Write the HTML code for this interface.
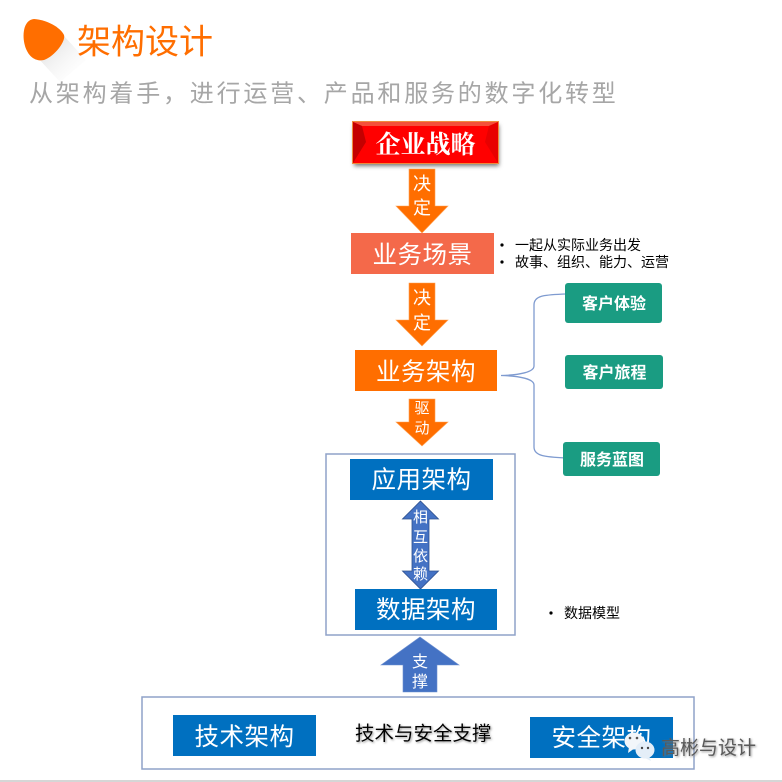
<!DOCTYPE html>
<html><head><meta charset="utf-8">
<style>
html,body{margin:0;padding:0;background:#fff;width:782px;height:782px;overflow:hidden}
svg{display:block}
text{font-family:"Liberation Sans","Noto Sans CJK SC",sans-serif}
.w{fill:#fff;text-anchor:middle}
.b{fill:#000}
</style></head><body>
<svg width="782" height="782" viewBox="0 0 782 782" xmlns="http://www.w3.org/2000/svg">
<defs>
<linearGradient id="sh" x1="0" y1="0" x2="1" y2="1"><stop offset="0" stop-color="#c4c4c4" stop-opacity=".7"/><stop offset="1" stop-color="#fff" stop-opacity="0"/></linearGradient>
<filter id="bl" x="-20%" y="-20%" width="140%" height="150%"><feGaussianBlur stdDeviation="2"/></filter>
<filter id="ts" x="-10%" y="-30%" width="120%" height="170%"><feDropShadow dx="1" dy="1" stdDeviation="1" flood-color="#777" flood-opacity=".8"/></filter>
</defs>

<!-- header -->
<polygon points="38,58 64,36 86,60 60,82" fill="url(#sh)"/>
<path d="M34 19 C47 20 60 27 64 35 C66 41 55 56 44 60 C35 62 28 56 25 46 C22 36 23 20 34 19Z" fill="#ff6e00"/>
<text x="77" y="53.500" font-size="34" fill="#ff6e00">架构设计</text>
<text x="29" y="101.500" font-size="24" fill="#a6a6a6" letter-spacing="2.800">从架构着手，进行运营、产品和服务的数字化转型</text>

<!-- strategy -->
<rect x="354" y="125" width="145" height="41" fill="#777" filter="url(#bl)"/>
<rect x="353" y="122" width="145" height="41" fill="#ff0000"/>
<polygon points="353,122 498,122 489,126 362,126" fill="#f4503a"/>
<polygon points="353,122 362,126 366,142 353,163" fill="#c40000"/>
<polygon points="498,122 489,126 485,142 498,163" fill="#e80000"/>
<rect x="352.500" y="121.500" width="146" height="42" fill="none" stroke="#f08a3c" stroke-width="1"/>
<text class="w" x="425.500" y="153" font-size="25" font-weight="bold" style="font-family:'Noto Serif CJK SC','Liberation Serif',serif">企业战略</text>

<!-- arrow 1 -->
<polygon points="409,169 435,169 435,206 448,206 422,233 396,206 409,206" fill="#ff6e00" stroke="#ffa050" stroke-width=".6"/>
<text class="w" x="422" y="190" font-size="18">决</text>
<text class="w" x="422" y="214" font-size="18">定</text>

<!-- scene -->
<rect x="351" y="233" width="143" height="41" fill="#f4694a"/>
<text class="w" x="422.500" y="263" font-size="24.500" letter-spacing=".5">业务场景</text>
<circle cx="502" cy="245" r="1.600" fill="#000"/>
<circle cx="502" cy="262" r="1.600" fill="#000"/>
<text class="b" x="515" y="250" font-size="14">一起从实际业务出发</text>
<text class="b" x="515" y="267" font-size="14">故事、组织、能力、运营</text>

<!-- arrow 2 -->
<polygon points="409,283 435,283 435,320 448,320 422,346 396,320 409,320" fill="#ff6e00" stroke="#ffa050" stroke-width=".6"/>
<text class="w" x="422" y="304" font-size="18">决</text>
<text class="w" x="422" y="329" font-size="18">定</text>

<!-- business arch -->
<rect x="355" y="350" width="142" height="41" fill="#ff6e00"/>
<text class="w" x="426" y="380" font-size="24.500" letter-spacing=".5">业务架构</text>

<!-- brace -->
<path d="M565 294 C545 295 534 295 534 305 L534 366 C534 372 520 375 501 375.500 C520 376 534 379 534 385 L534 447 C534 456 545 457 566 458" fill="none" stroke="#7f9bd0" stroke-width="1.300"/>

<!-- green -->
<rect x="565" y="283" width="97" height="40" rx="3" fill="#1a9c82"/>
<text class="w" x="614" y="309" font-size="16" font-weight="bold">客户体验</text>
<rect x="565" y="355" width="98" height="34" rx="3" fill="#1a9c82"/>
<text class="w" x="614.500" y="378" font-size="16" font-weight="bold">客户旅程</text>
<rect x="563" y="442" width="97" height="34" rx="3" fill="#1a9c82"/>
<text class="w" x="612" y="465" font-size="16" font-weight="bold">服务蓝图</text>

<!-- arrow 3 -->
<polygon points="409,399 435,399 435,422 448,422 422,446 396,422 409,422" fill="#ff6e00" stroke="#ffa050" stroke-width=".6"/>
<text class="w" x="422" y="413" font-size="15">驱</text>
<text class="w" x="422" y="433" font-size="15">动</text>

<!-- middle frame -->
<rect x="326" y="454" width="189" height="181" fill="none" stroke="#8fa2c8" stroke-width="1.500"/>
<rect x="350" y="459" width="143" height="41" fill="#0070c0"/>
<text class="w" x="421.500" y="488" font-size="24.500" letter-spacing=".5">应用架构</text>

<polygon points="420.500,501 438.500,519 429,519 429,571 438.500,571 420.500,589 402.500,571 412,571 412,519 402.500,519" fill="#4472c4" stroke="#2f528f" stroke-width=".8"/>
<text class="w" x="420.500" y="522" font-size="15">相</text>
<text class="w" x="420.500" y="542" font-size="15">互</text>
<text class="w" x="420.500" y="561" font-size="15">依</text>
<text class="w" x="420.500" y="579" font-size="15">赖</text>

<rect x="355" y="589" width="142" height="41" fill="#0070c0"/>
<text class="w" x="426" y="618" font-size="24.500" letter-spacing=".5">数据架构</text>
<circle cx="551" cy="613" r="1.600" fill="#000"/>
<text class="b" x="564" y="618" font-size="14">数据模型</text>

<!-- up arrow -->
<polygon points="420,637 459,665 437,665 437,692 403,692 403,665 381,665" fill="#4472c4" stroke="#6d8fd0" stroke-width=".6"/>
<text class="w" x="420" y="667" font-size="16">支</text>
<text class="w" x="420" y="687" font-size="16">撑</text>

<!-- bottom frame -->
<rect x="142" y="697" width="552" height="72" fill="none" stroke="#8fa2c8" stroke-width="1.500"/>
<rect x="173" y="715" width="143" height="41" fill="#0070c0"/>
<text class="w" x="244.500" y="745" font-size="24.500" letter-spacing=".5">技术架构</text>
<text x="355" y="740" font-size="19.500" fill="#000" filter="url(#ts)">技术与安全支撑</text>
<rect x="530" y="717" width="143" height="41" fill="#0070c0"/>
<text class="w" x="601.500" y="746" font-size="24.500" letter-spacing=".5">安全架构</text>

<!-- footer -->
<rect x="0" y="780" width="782" height="2" fill="#d6d6d6"/>

<!-- watermark -->
<ellipse cx="634" cy="741" rx="9.500" ry="8.500" fill="#f2f6fa"/>
<polygon points="629,747 628,753 635,748" fill="#f2f6fa"/>
<ellipse cx="645" cy="750" rx="9.500" ry="8.500" fill="#e4eef8"/>
<polygon points="649,756 651,761 643,757" fill="#e4eef8"/>
<circle cx="630" cy="738" r="1.300" fill="#555"/>
<circle cx="637" cy="738" r="1.300" fill="#555"/>
<circle cx="642" cy="748" r="1.200" fill="#444"/>
<circle cx="648" cy="748" r="1.200" fill="#444"/>
<text x="661" y="754" font-size="19" fill="#5a5a5a" filter="url(#ts)">高彬与设计</text>
</svg>
</body></html>
